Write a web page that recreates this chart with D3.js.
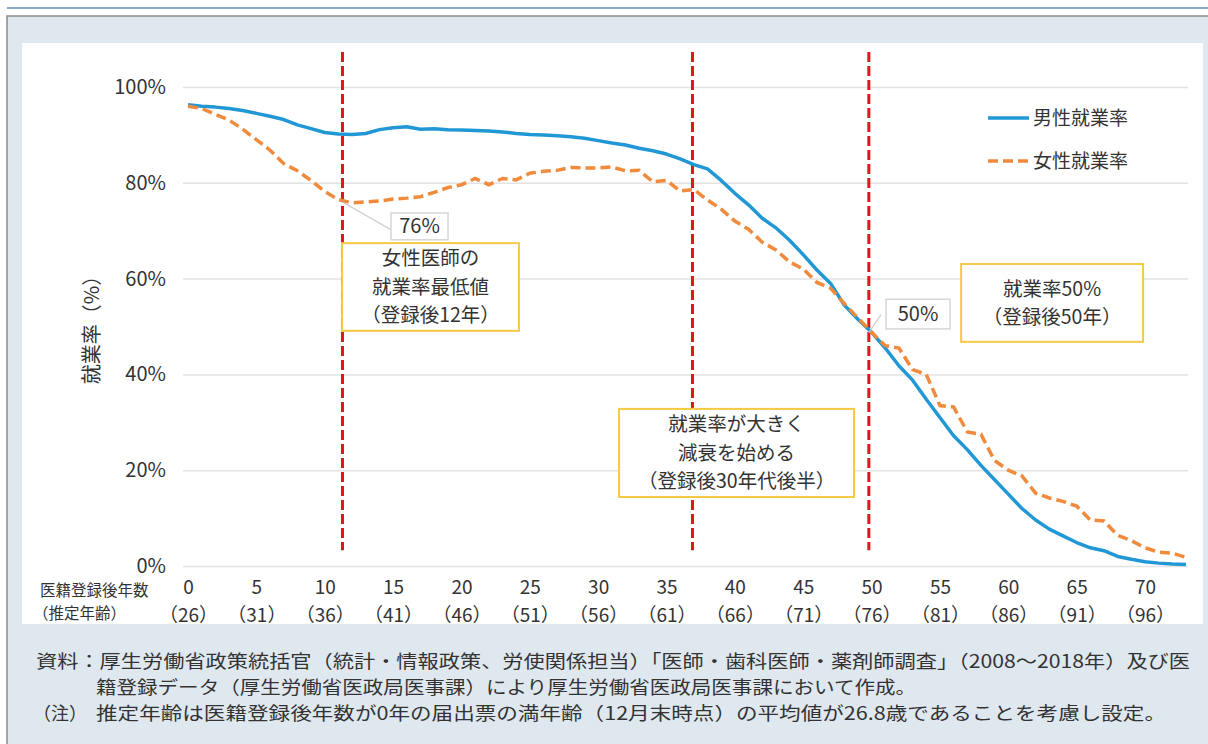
<!DOCTYPE html>
<html lang="ja">
<head>
<meta charset="UTF-8" />
<title>医籍登録後年数別の就業率</title>
<style>
  body { margin: 0; background: #fff; }
  svg { display: block; font-family: "Noto Sans CJK JP", "Noto Sans", sans-serif; }
</style>
</head>
<body>
<div id="chart"></div>
<script src="https://cdnjs.cloudflare.com/ajax/libs/d3/7.8.5/d3.min.js"></script>
<script>

// years since registration (0..73)
var years = d3.range(0, 74);

var maleRate = [
  96.3, 96.0, 95.8, 95.5, 95.1, 94.5, 93.9, 93.2, 92.1, 91.3,
  90.5, 90.2, 90.1, 90.3, 91.1, 91.5, 91.7, 91.2, 91.3, 91.1,
  91.0, 90.9, 90.8, 90.6, 90.3, 90.1, 90.0, 89.8, 89.6, 89.3,
  88.8, 88.3, 87.9, 87.2, 86.7, 86.0, 85.0, 83.8, 82.9, 80.5,
  77.8, 75.4, 72.6, 70.6, 68.0, 65.0, 61.8, 59.0, 54.5, 51.5,
  48.8, 45.5, 41.8, 38.8, 34.8, 31.0, 27.2, 24.3, 21.0, 18.0,
  15.0, 12.0, 9.6, 7.7, 6.3, 4.9, 3.8, 3.2, 2.0, 1.4,
  0.9, 0.6, 0.4, 0.3
];

var femaleRate = [
  96.0, 95.5, 94.3, 93.1, 91.2, 89.0, 86.8, 84.0, 82.5, 80.5,
  78.2, 76.5, 75.8, 76.0, 76.2, 76.6, 76.8, 77.1, 78.0, 79.0,
  79.6, 80.9, 79.6, 80.9, 80.6, 82.0, 82.4, 82.6, 83.2, 83.1,
  83.1, 83.3, 82.5, 82.6, 80.2, 80.5, 78.3, 78.6, 76.4, 74.5,
  72.0, 70.3, 67.6, 66.0, 63.5, 62.0, 59.2, 58.0, 54.8, 51.8,
  48.8, 46.0, 45.5, 41.0, 40.0, 33.5, 33.2, 28.0, 27.5, 22.0,
  20.0, 18.8, 15.2, 14.2, 13.5, 12.5, 9.6, 9.4, 6.4, 5.3,
  3.8, 2.9, 2.7, 1.8
];

var xTicks = [0, 5, 10, 15, 20, 25, 30, 35, 40, 45, 50, 55, 60, 65, 70];
var ageLabels = [26, 31, 36, 41, 46, 51, 56, 61, 66, 71, 76, 81, 86, 91, 96];
var yTicks = [0, 20, 40, 60, 80, 100];

var seriesNames = ["男性就業率", "女性就業率"];

// red dashed reference lines (years)
var markerYears = [11.3, 36.9, 49.8];

var footLines = [
  "資料：厚生労働省政策統括官（統計・情報政策、労使関係担当）「医師・歯科医師・薬剤師調査」（2008～2018年）及び医",
  "籍登録データ（厚生労働省医政局医事課）により厚生労働省医政局医事課において作成。",
  "推定年齢は医籍登録後年数が0年の届出票の満年齢（12月末時点）の平均値が26.8歳であることを考慮し設定。"
];

var W = 1208, H = 744;
var blue = "#2198d5", orange = "#f08a3c", red = "#e5141c", yellow = "#f6c944";

var svg = d3.select("#chart").append("svg")
  .attr("width", W)
  .attr("height", H);

// frame
svg.append("line")
  .attr("x1", 7).attr("x2", W).attr("y1", 8).attr("y2", 8)
  .attr("stroke", "#5f8fae").attr("stroke-width", 1.5);
svg.append("rect")
  .attr("x", 7).attr("y", 16).attr("width", W + 5).attr("height", H)
  .attr("fill", "#dfe8ef").attr("stroke", "#8a8a8a").attr("stroke-width", 1.5);
svg.append("rect")
  .attr("x", 22).attr("y", 43).attr("width", 1181).attr("height", 581)
  .attr("fill", "#fff");

var x = d3.scaleLinear().domain([0, 70]).range([188, 1145]);
var y = d3.scaleLinear().domain([0, 100]).range([566, 87]);

var gridLeft = x(-0.37), gridRight = x(73.16);

// y axis + grid
var yAxis = svg.append("g")
  .attr("transform", "translate(" + gridLeft + ",0)")
  .call(d3.axisLeft(y)
    .tickValues(yTicks)
    .tickSizeInner(-(gridRight - gridLeft))
    .tickSizeOuter(0)
    .tickPadding(17)
    .tickFormat(function(d) { return d + "%"; }));
yAxis.select(".domain").remove();
yAxis.selectAll(".tick line").attr("stroke", "#e3e3e3").attr("stroke-width", 1.5);
yAxis.selectAll(".tick text")
  .attr("fill", "#333").style("font-size", "20px")
  .style("font-family", "'Noto Sans CJK JP', sans-serif");

// x axis: year on first line, estimated age below
var xAxis = svg.append("g")
  .attr("transform", "translate(0,594)")
  .call(d3.axisBottom(x).tickValues(xTicks).tickSize(0).tickPadding(0));
xAxis.select(".domain").remove();
xAxis.selectAll(".tick text")
  .attr("y", 0).attr("dy", null)
  .attr("fill", "#333").style("font-size", "19px")
  .style("font-family", "'Noto Sans CJK JP', sans-serif")
  .each(function(d, i) {
    var t = d3.select(this);
    t.text(null);
    t.append("tspan").attr("x", 0).attr("dy", 0).text(d);
    t.append("tspan").attr("x", 0).attr("dy", 27.5).text("（" + ageLabels[i] + "）");
  });

var xTitle = svg.append("text")
  .attr("y", 596)
  .attr("fill", "#333").style("font-size", "15.5px");
xTitle.append("tspan").attr("x", 40).text("医籍登録後年数");
xTitle.append("tspan").attr("x", 33).attr("dy", 22.5).text("（推定年齢）");

// y title
svg.append("text")
  .attr("transform", "translate(99,325) rotate(-90)")
  .attr("text-anchor", "middle")
  .attr("fill", "#333")
  .style("font-size", "20px")
  .text("就業率（%）");

// red reference lines
svg.append("g").selectAll("line.marker")
  .data(markerYears)
  .enter()
  .append("line")
  .attr("class", "marker")
  .attr("x1", function(d) { return x(d); })
  .attr("x2", function(d) { return x(d); })
  .attr("y1", y(107.3))
  .attr("y2", y(3.3))
  .attr("stroke", red)
  .attr("stroke-width", 3)
  .attr("stroke-dasharray", "10,4");

// series lines
var line = d3.line()
  .x(function(d, i) { return x(years[i]); })
  .y(function(d) { return y(d); });

svg.append("path")
  .datum(maleRate)
  .attr("fill", "none")
  .attr("stroke", blue)
  .attr("stroke-width", 3.5)
  .attr("stroke-linejoin", "round")
  .attr("d", line);

svg.append("path")
  .datum(femaleRate)
  .attr("fill", "none")
  .attr("stroke", orange)
  .attr("stroke-width", 3.5)
  .attr("stroke-dasharray", "10,5")
  .attr("d", line);

// legend
var legend = svg.append("g").attr("transform", "translate(988,118)");
legend.selectAll("line")
  .data(seriesNames)
  .enter()
  .append("line")
  .attr("x1", 0).attr("x2", 41)
  .attr("y1", function(d, i) { return i * 43; })
  .attr("y2", function(d, i) { return i * 43; })
  .attr("stroke", function(d, i) { return i === 0 ? blue : orange; })
  .attr("stroke-width", 3.5)
  .attr("stroke-dasharray", function(d, i) { return i === 0 ? null : "10,5"; });
legend.selectAll("text")
  .data(seriesNames)
  .enter()
  .append("text")
  .attr("x", 45)
  .attr("y", function(d, i) { return i * 43 + 7; })
  .attr("fill", "#333")
  .style("font-size", "19px")
  .text(function(d) { return d; });

// value call-outs
var callouts = [
  { text: "76%", x0: 14.85, x1: 19.02, y0: 73.7, y1: 68.1, fromX: 11.3, fromY: 76.0, toX: 14.85, toY: 70.2 },
  { text: "50%", x0: 51.06, x1: 55.74, y0: 55.7, y1: 49.5, fromX: 49.8, fromY: 48.7, toX: 50.7, toY: 52.5 }
];
callouts.forEach(function(c) {
  svg.append("line")
    .attr("x1", x(c.fromX)).attr("y1", y(c.fromY))
    .attr("x2", x(c.toX)).attr("y2", y(c.toY))
    .attr("stroke", "#c8c8c8").attr("stroke-width", 1.2);
  svg.append("rect")
    .attr("x", x(c.x0)).attr("y", y(c.y0))
    .attr("width", x(c.x1) - x(c.x0)).attr("height", y(c.y1) - y(c.y0))
    .attr("fill", "#fff").attr("stroke", "#d6d6d6").attr("stroke-width", 1.5);
  svg.append("text")
    .attr("x", (x(c.x0) + x(c.x1)) / 2)
    .attr("y", (y(c.y0) + y(c.y1)) / 2 + 7)
    .attr("text-anchor", "middle")
    .attr("fill", "#333")
    .style("font-size", "20px")
    .text(c.text);
});

// yellow note boxes
var notes = [
  { lines: ["女性医師の", "就業率最低値", "（登録後12年）"], x0: 11.27, x1: 24.21, y0: 67.4, y1: 49.1 },
  { lines: ["就業率50%", "（登録後50年）"], x0: 56.55, x1: 69.86, y0: 63.05, y1: 46.8 },
  { lines: ["就業率が大きく", "減衰を始める", "（登録後30年代後半）"], x0: 31.53, x1: 48.72, y0: 32.8, y1: 14.4 }
];
notes.forEach(function(n) {
  var top = y(n.y0), bottom = y(n.y1);
  var cx = (x(n.x0) + x(n.x1)) / 2;
  svg.append("rect")
    .attr("x", x(n.x0)).attr("y", top)
    .attr("width", x(n.x1) - x(n.x0)).attr("height", bottom - top)
    .attr("fill", "#fff").attr("stroke", yellow).attr("stroke-width", 2);
  var lh = 28.5;
  var start = (top + bottom) / 2 - (n.lines.length - 1) * lh / 2 + 7;
  var t = svg.append("text")
    .attr("y", start)
    .attr("text-anchor", "middle")
    .attr("fill", "#333")
    .style("font-size", "19.5px");
  n.lines.forEach(function(s, i) {
    t.append("tspan").attr("x", cx).attr("dy", i === 0 ? 0 : lh).text(s);
  });
});

// footnotes
var foot = svg.append("g").attr("fill", "#333").style("font-size", "18px");
foot.append("text").attr("x", 36).attr("y", 668)
  .attr("textLength", 1154).attr("lengthAdjust", "spacingAndGlyphs")
  .text(footLines[0]);
foot.append("text").attr("x", 96).attr("y", 694)
  .attr("textLength", 820).attr("lengthAdjust", "spacingAndGlyphs")
  .text(footLines[1]);
foot.append("text").attr("x", 33).attr("y", 720)
  .text("（注）");
foot.append("text").attr("x", 96).attr("y", 720)
  .attr("textLength", 1070).attr("lengthAdjust", "spacingAndGlyphs")
  .text(footLines[2]);

</script>
</body>
</html>
